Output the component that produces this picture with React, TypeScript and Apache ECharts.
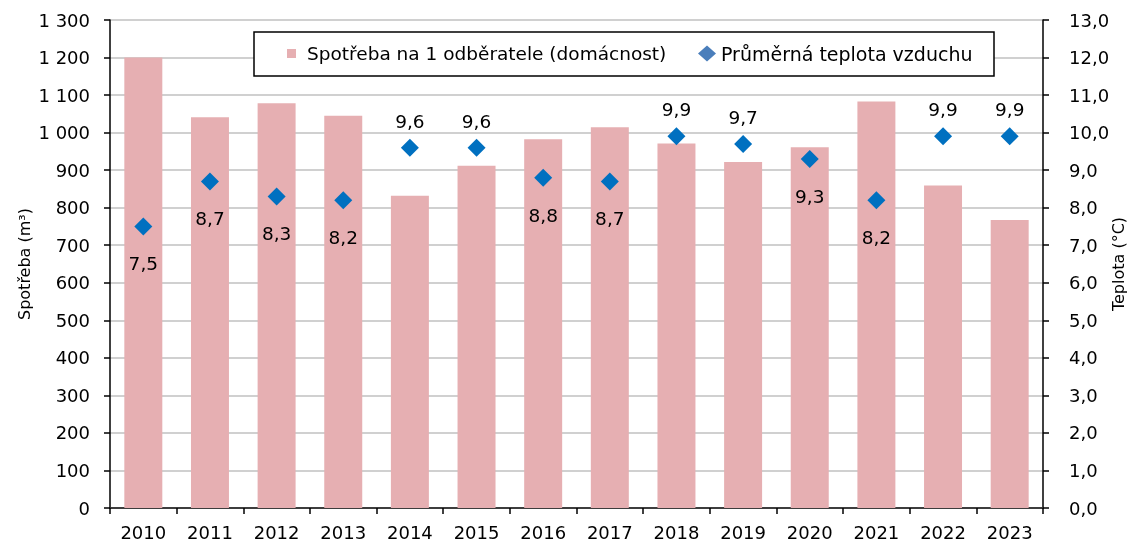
import React, { useEffect, useRef } from "react";
import * as echarts from "echarts";

const years = ["2010", "2011", "2012", "2013", "2014", "2015", "2016", "2017", "2018", "2019", "2020", "2021", "2022", "2023"];
const consumption = [1200, 1041, 1078, 1045, 832, 912, 982, 1014, 971, 922, 961, 1083, 859, 767];
const temperature = [7.5, 8.7, 8.3, 8.2, 9.6, 9.6, 8.8, 8.7, 9.9, 9.7, 9.3, 8.2, 9.9, 9.9];
const labelAbove = [false, false, false, false, true, true, false, false, true, true, false, false, true, true];

const barName = "Spotřeba na 1 odběratele (domácnost)";
const tempName = "Průměrná teplota vzduchu";

const FONT = "DejaVu Sans";

export default function App() {
  const ref = useRef<HTMLDivElement>(null);
  useEffect(() => {
    if (!ref.current) return;
    const chart = echarts.init(ref.current, undefined, { renderer: "svg" });
    const fmtThousands = (v: number) => {
      const s = String(Math.round(v));
      return s.replace(/\B(?=(\d{3})+(?!\d))/g, " ");
    };
    const fmtComma = (v: number) => Number(v).toFixed(1).replace(".", ",");
    chart.setOption({
      animation: false,
      textStyle: { fontFamily: FONT },
      grid: { left: 110, right: 88, top: 20, bottom: 36, containLabel: false, outerBoundsMode: "none" },
      graphic: [
        {
          type: "rect",
          z: 10,
          shape: { x: 254, y: 32, width: 740, height: 44 },
          style: { fill: "#fff", stroke: "#000", lineWidth: 1.5 },
        },
      ],
      legend: [
        {
          data: [{ name: barName, icon: "rect" }],
          left: 287,
          top: 44,
          padding: 0,
          z: 20,
          itemWidth: 9,
          itemHeight: 9,
          textStyle: { fontSize: 18.5, color: "#000", fontFamily: FONT, padding: [0, 0, 0, 6] },
        },
        {
          data: [{ name: tempName, icon: "diamond", itemStyle: { color: "#4a7ebb" } }],
          left: 698,
          top: 44,
          padding: 0,
          z: 20,
          itemWidth: 18,
          itemHeight: 16,
          textStyle: { fontSize: 19, color: "#000", fontFamily: FONT },
        },
      ],
      xAxis: [
        {
          type: "category",
          data: years,
          boundaryGap: true,
          axisLine: { lineStyle: { color: "#000", width: 1.5 } },
          axisTick: { show: true, alignWithLabel: false, length: 6, lineStyle: { color: "#000", width: 1.5 } },
          axisLabel: { fontSize: 18, color: "#000", margin: 15, fontFamily: FONT },
        },
        {
          type: "category",
          data: years,
          position: "top",
          axisLine: { show: true, lineStyle: { color: "#404040", width: 1.5 } },
          axisTick: { show: false },
          axisLabel: { show: false },
        },
      ],
      yAxis: [
        {
          type: "value",
          min: 0,
          max: 1300,
          interval: 100,
          name: "Spotřeba (m³)",
          nameLocation: "middle",
          nameRotate: 90,
          nameGap: 78,
          nameMoveOverlap: false,
          nameTextStyle: { fontSize: 16, color: "#000", fontFamily: FONT },
          axisLine: { show: true, lineStyle: { color: "#000", width: 1.5 } },
          axisTick: { show: true, length: 6, lineStyle: { color: "#000", width: 1.5 } },
          axisLabel: { fontSize: 18, color: "#000", margin: 20, formatter: fmtThousands, fontFamily: FONT },
          splitLine: { show: true, lineStyle: { color: "#c0c0c0", width: 1.5 } },
        },
        {
          type: "value",
          min: 0,
          max: 13,
          interval: 1,
          name: "Teplota (°C)",
          nameLocation: "middle",
          nameRotate: 90,
          nameGap: 67,
          nameMoveOverlap: false,
          nameTextStyle: { fontSize: 16, color: "#000", fontFamily: FONT },
          axisLine: { show: true, lineStyle: { color: "#000", width: 1.5 } },
          axisTick: { show: true, length: 6, lineStyle: { color: "#000", width: 1.5 } },
          axisLabel: { fontSize: 18, color: "#000", margin: 26, formatter: fmtComma, fontFamily: FONT },
          splitLine: { show: false },
        },
      ],
      series: [
        {
          name: barName,
          type: "bar",
          yAxisIndex: 0,
          barWidth: "57%",
          itemStyle: { color: "#e6afb2" },
          data: consumption,
        },
        {
          name: tempName,
          type: "scatter",
          yAxisIndex: 1,
          symbol: "diamond",
          symbolSize: [18, 18],
          itemStyle: { color: "#0070c0", opacity: 1 },
          z: 5,
          data: temperature.map((v, i) => ({
            value: v,
            label: {
              show: true,
              position: labelAbove[i] ? "top" : "bottom",
              distance: labelAbove[i] ? 8 : 19,
              formatter: (p: any) => fmtComma(p.value),
              fontSize: 18.5,
              color: "#000",
              fontFamily: FONT,
            },
          })),
        },
      ],
    });
    return () => chart.dispose();
  }, []);
  return <div ref={ref} style={{ position: "fixed", left: 0, top: 0, width: 1131, height: 544 }} />;
}
